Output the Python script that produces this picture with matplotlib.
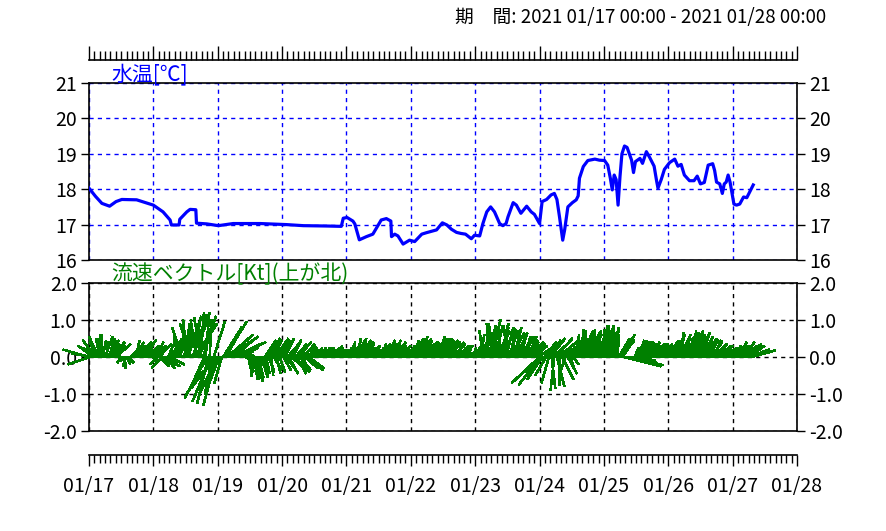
import numpy as np
import matplotlib
matplotlib.use("Agg")
import matplotlib.pyplot as plt
from matplotlib.ticker import MultipleLocator, FixedLocator

plt.rcParams['font.family'] = ['Noto Sans CJK JP', 'DejaVu Sans']
plt.rcParams['axes.unicode_minus'] = False

# ---------------- data ----------------
title_text = "期　間: 2021 01/17 00:00 - 2021 01/28 00:00"
day_labels = ["01/17", "01/18", "01/19", "01/20", "01/21", "01/22",
              "01/23", "01/24", "01/25", "01/26", "01/27", "01/28"]
temp_label = "水温[℃]"
cur_label = "流速ベクトル[Kt](上が北)"

temp_day = [0.00, 0.10, 0.20, 0.32, 0.42, 0.51, 0.74, 1.00, 1.15, 1.26, 1.28, 1.40, 1.41, 1.52, 1.57, 1.66,
            1.67, 1.83, 2.01, 2.24, 2.66, 3.07, 3.33, 3.69, 3.92, 3.95, 4.01, 4.10, 4.13, 4.20, 4.31, 4.41,
            4.54, 4.62, 4.69, 4.70, 4.75, 4.80, 4.88, 4.98, 5.06, 5.17, 5.24, 5.40, 5.49, 5.56, 5.63, 5.71,
            5.78, 5.85, 5.94, 5.99, 6.07, 6.12, 6.18, 6.24, 6.30, 6.38, 6.43, 6.48, 6.51, 6.59, 6.64, 6.71,
            6.80, 6.87, 6.92, 7.00, 7.04, 7.11, 7.18, 7.23, 7.27, 7.31, 7.36, 7.39, 7.44, 7.51, 7.57, 7.60,
            7.62, 7.68, 7.75, 7.86, 7.93, 8.01, 8.06, 8.10, 8.13, 8.16, 8.19, 8.22, 8.25, 8.28, 8.32, 8.36,
            8.43, 8.46, 8.49, 8.56, 8.60, 8.66, 8.71, 8.78, 8.82, 8.84, 8.89, 8.94, 9.02, 9.10, 9.15, 9.20,
            9.25, 9.33, 9.40, 9.45, 9.50, 9.56, 9.62, 9.69, 9.72, 9.75, 9.80, 9.84, 9.87, 9.90, 9.93, 9.96,
            10.02, 10.06, 10.11, 10.17, 10.22, 10.32]
temp_val = [18.03, 17.80, 17.60, 17.52, 17.65, 17.71, 17.70, 17.55, 17.36, 17.13, 16.99, 16.99, 17.15, 17.36, 17.43, 17.42,
            17.04, 17.02, 16.97, 17.03, 17.03, 17.00, 16.97, 16.96, 16.95, 17.18, 17.20, 17.10, 17.02, 16.57, 16.66, 16.73,
            17.13, 17.17, 17.10, 16.66, 16.73, 16.68, 16.45, 16.56, 16.52, 16.73, 16.77, 16.85, 17.05, 16.99, 16.87, 16.78,
            16.75, 16.73, 16.60, 16.70, 16.68, 17.03, 17.36, 17.50, 17.36, 17.03, 16.97, 17.03, 17.22, 17.62, 17.55, 17.32,
            17.52, 17.36, 17.29, 17.03, 17.65, 17.71, 17.84, 17.88, 17.71, 17.22, 16.56, 16.85, 17.50, 17.62, 17.70, 17.81,
            18.31, 18.64, 18.81, 18.85, 18.82, 18.81, 18.68, 18.31, 17.98, 18.40, 18.27, 17.55, 18.36, 19.00, 19.22, 19.18,
            18.82, 18.47, 18.78, 18.87, 18.73, 19.06, 18.90, 18.65, 18.22, 18.03, 18.27, 18.56, 18.75, 18.85, 18.65, 18.70,
            18.40, 18.24, 18.24, 18.37, 18.15, 18.19, 18.68, 18.72, 18.53, 18.20, 18.15, 17.88, 18.15, 18.20, 18.40, 18.20,
            17.58, 17.55, 17.58, 17.78, 17.76, 18.12]

# half-hourly current vectors [kt], east (u) / north (v) components, one list per day from 01/17 00:00
u_d0 = [-0.7, -0.6, -0.55, -0.4, -0.3, -0.35, -0.2, -0.25, -0.1, 0.0, 0.1, -0.15, 0.2, 0.05, 0.3, 0.15, 0.25, 0.35, 0.1, 0.3,
        0.4, 0.2, 0.1, 0.05, -0.1, 0.1, 0.05, -0.05, 0.1, 0.15, 0.05, 0.15, 0.2, 0.3, 0.25, 0.1, 0.35, 0.2, 0.3, 0.4,
        0.25, 0.15, 0.35, 0.2, 0.3, 0.1, 0.2, 0.15]
v_d0 = [0.2, -0.2, 0.1, 0.3, 0.25, 0.45, 0.4, 0.55, 0.5, 0.6, 0.45, 0.5, 0.55, 0.4, 0.45, 0.5, 0.35, 0.4, 0.45, 0.3,
        0.35, 0.25, 0.2, -0.1, -0.15, -0.2, -0.3, -0.25, -0.2, -0.15, -0.1, 0.15, 0.25, 0.3, 0.4, 0.45, 0.35, 0.3, 0.4, 0.45,
        0.35, 0.3, 0.25, 0.4, 0.3, 0.2, 0.15, -0.1]
u_d1 = [0.1, 0.3, 0.2, -0.2, 0.35, 0.25, 0.1, -0.3, 0.3, 0.25, 0.35, 0.2, 0.4, 0.3, -0.2, 0.45, 0.5,
        0.2, -0.1, 0.35, 0.1, -0.25, 0.4, 0.15, 0.5, -0.1, 0.3, 0.05, -0.3, 0.45, 0.2, 0.6, -0.15, 0.25, 0.4, 0.1, -0.2, 0.35,
        -0.4, 0.1, -0.6, -0.3, 0.05, -0.5, -0.2, 0.3, -0.65, -0.35]
v_d1 = [-0.15, 0.3, 0.4, -0.2, 0.35, -0.25, 0.3, -0.3, -0.2, -0.3, -0.25, 0.45, -0.2, 0.5, -0.15, 0.6, 0.5,
        0.55, 0.6, 0.7, 0.65, 0.8, 0.75, 0.9, 0.85, 1.0, 0.95, 0.8, 0.9, 1.05, 1.1, 0.9, 1.0, 1.15, 0.95, 1.2, 1.05, 1.1,
        -0.9, 1.2, -1.1, -1.25, 1.0, -1.2, -1.0, 0.95, -0.85, -1.3]
u_d2 = [-0.5, -0.3, -0.7, -0.2,
        0.5, 0.6, 0.4, 0.7, 0.8, 0.5, 0.6, 0.9, 0.7, 0.45, 0.6, 0.55, 0.4,
        0.35, 0.3, 0.2, 0.25, 0.15, 0.1,
        0.05, 0.1, 0.0, 0.15, 0.1, 0.2, 0.05, 0.15, 0.1, 0.2, 0.15, 0.1,
        0.3, 0.1, 0.35, 0.15, 0.3, 0.05, 0.25, 0.2, 0.35, 0.1, 0.3, 0.15, 0.25]
v_d2 = [-1.0, -0.8, -0.6, -0.7,
        0.8, 0.95, 0.7, 0.6, 0.55, 0.5, 0.45, 0.4, 0.35, 0.45, 0.3, 0.25, 0.2,
        0.2, 0.15, 0.1, 0.05, -0.1, -0.15,
        -0.3, -0.4, -0.5, -0.55, -0.6, -0.65, -0.6, -0.55, -0.65, -0.5, -0.55, -0.45,
        0.45, -0.45, 0.5, -0.4, 0.4, -0.5, 0.45, -0.35, 0.5, -0.45, 0.4, -0.4, 0.45]
u_d3 = [0.3, 0.2, 0.25, 0.3, 0.35, 0.25, 0.3, 0.35, 0.2, 0.4, 0.3, 0.25, 0.35, 0.3, 0.4, 0.2, 0.3, 0.35, 0.45, 0.25, 0.4,
        0.2, 0.3, 0.1, 0.05, 0.0, 0.05, 0.1, 0.0, 0.05, -0.05, 0.05, 0.1, 0.0, 0.05, 0.0, 0.05, 0.1, 0.0, 0.05, 0.0,
        0.05, 0.1, 0.0, 0.05, 0.1, 0.05, 0.0]
v_d3 = [0.45, -0.35, 0.5, -0.4, 0.4, -0.45, 0.45, -0.3, 0.4, -0.4, 0.35, -0.45, 0.4, -0.35, 0.3, -0.4, 0.35, -0.3, -0.35, 0.25, -0.3,
        0.1, 0.05, 0.15, 0.2, 0.15, 0.2, 0.25, 0.15, 0.2, 0.2, 0.25, 0.15, 0.2, 0.25, 0.2, 0.15, 0.2, 0.25, 0.2, 0.15,
        0.25, 0.3, 0.2, 0.25, 0.2, 0.15, 0.2]
u_d4 = [0.05, 0.1, 0.15, 0.1, 0.2, 0.05, 0.15, 0.25, 0.1, 0.2, 0.3, 0.15, 0.1, 0.25, 0.05, 0.2, 0.15, 0.3, 0.1, 0.2,
        0.05, 0.1, 0.15, 0.0, 0.05, 0.1, 0.0, 0.15, 0.05, 0.1, 0.2, 0.05, 0.15, 0.25, 0.1, 0.2, 0.3, 0.15, 0.05, 0.2,
        0.1, 0.25, 0.15, 0.05, 0.1, 0.0, 0.05, 0.1]
v_d4 = [0.2, 0.25, 0.3, 0.35, 0.3, 0.4, 0.35, 0.45, 0.5, 0.4, 0.45, 0.35, 0.5, 0.4, 0.3, 0.35, 0.4, 0.3, 0.25, 0.3,
        0.2, 0.25, 0.2, 0.15, 0.2, 0.25, 0.2, 0.3, 0.35, 0.3, 0.4, 0.35, 0.45, 0.4, 0.35, 0.45, 0.4, 0.3, 0.35, 0.3,
        0.25, 0.3, 0.2, 0.25, 0.2, 0.15, 0.2, 0.25]
u_d5 = [0.1, 0.15, 0.2, 0.1, 0.25, 0.15, 0.3, 0.2, 0.1, 0.25, 0.35, 0.15, 0.2, 0.1, 0.3, 0.2, 0.05, 0.15, 0.1, 0.2,
        0.25, 0.15, 0.3, 0.2, 0.35, 0.25, 0.15, 0.3, 0.2, 0.1, 0.25, 0.15, 0.3, 0.4, 0.2, 0.1, 0.25, 0.15, 0.3, 0.2,
        0.1, 0.15, 0.05, 0.1, 0.2, 0.15, 0.1, 0.2]
v_d5 = [0.3, 0.35, 0.4, 0.45, 0.4, 0.5, 0.45, 0.55, 0.5, 0.45, 0.4, 0.5, 0.35, 0.3, 0.35, 0.4, 0.3, 0.35, 0.4, 0.45,
        0.5, 0.55, 0.45, 0.5, 0.4, 0.45, 0.5, 0.4, 0.35, 0.3, 0.4, 0.45, 0.35, 0.3, 0.4, 0.35, 0.3, 0.25, 0.3, 0.2,
        0.15, 0.1, 0.05, 0.1, 0.2, 0.15, 0.25, 0.3]
u_d6 = [0.2, 0.3, 0.15, 0.35, 0.1, 0.25, -0.1, 0.2, 0.05, 0.3, -0.05, 0.15, 0.25, -0.1, 0.1, 0.2, 0.35, 0.05, 0.25, -0.05,
        0.15, 0.3, 0.1, 0.2, -0.1, 0.25, 0.15, 0.35, 0.05, 0.2, 0.3, 0.1, 0.25, 0.4, 0.15, 0.3, 0.2, 0.35, 0.1, 0.25,
        0.4, 0.2, 0.3, 0.15, 0.35, 0.25, 0.45, 0.3]
v_d6 = [0.3, 0.4, 0.5, 0.45, 0.6, 0.55, 0.7, 0.65, 0.8, 0.75, 0.9, 0.85, 1.0, 0.9, 0.8, 0.85, 0.7, 0.75, 0.8, 0.9,
        0.85, 0.75, 0.9, 0.8, 0.85, 0.7, 0.75, 0.65, 0.7, 0.8, 0.6, 0.7, 0.65, 0.55, 0.6, 0.5, 0.55, 0.45, 0.5, 0.55,
        0.4, 0.45, 0.35, 0.4, 0.3, 0.35, 0.25, 0.2]
u_d7 = [-0.75, -0.6, -0.4, -0.5,
        0.3, -0.3, 0.35, -0.2, 0.4, 0.1, 0.5, -0.1, 0.45, 0.2, 0.55, 0.0, 0.6, 0.3, 0.5, -0.15, 0.65, 0.25, 0.7, 0.1, 0.8, 0.15,
        0.1, 0.2, 0.05, 0.25, 0.15, 0.3, 0.1, 0.2, -0.05, 0.15, 0.25, 0.1, 0.3, 0.2, 0.05, 0.15, 0.25, 0.1, 0.2, 0.3, 0.15, 0.05]
v_d7 = [-0.7, -0.75, -0.6, -0.4,
        0.4, -0.5, 0.45, -0.7, 0.5, -0.85, 0.45, -0.9, 0.5, -0.8, 0.45, -0.75, 0.4, -0.6, 0.35, -0.5, 0.3, -0.45, 0.25, -0.3, 0.2, -0.2,
        0.45, 0.55, 0.6, 0.5, 0.65, 0.55, 0.7, 0.6, 0.75, 0.65, 0.55, 0.7, 0.6, 0.65, 0.75, 0.6, 0.55, 0.7, 0.65, 0.6, 0.7, 0.75]
u_d8 = [0.1, 0.05, 0.15, 0.0, 0.1, 0.2, 0.05, 0.15, 0.1, 0.0, 0.05,
        0.3, 0.4, 0.35, 0.25,
        1.0, 0.9, 0.8, 0.95, 0.7, 0.6, 0.5, 0.4,
        0.1, 0.2, 0.3, 0.15, 0.25, 0.35, 0.1, 0.2, 0.3, 0.4, 0.15, 0.25, 0.35, 0.2, 0.3, 0.1, 0.25, 0.35, 0.2, 0.3,
        0.15, 0.25, 0.1, 0.2, 0.3]
v_d8 = [0.7, 0.8, 0.75, 0.85, 0.8, 0.7, 0.85, 0.75, 0.8, 0.65, 0.6,
        0.5, 0.6, 0.45, 0.4,
        -0.25, -0.2, -0.15, -0.22, -0.1, -0.08, -0.05, -0.02,
        0.25, 0.35, 0.4, 0.45, 0.4, 0.35, 0.45, 0.4, 0.35, 0.3, 0.4, 0.35, 0.3, 0.4, 0.35, 0.3, 0.35, 0.3, 0.35, 0.3,
        0.35, 0.3, 0.35, 0.3, 0.35]
u_d9 = [0.1, 0.2, 0.3, 0.15, 0.25, 0.1, 0.2, 0.35, 0.15, 0.25, 0.05, 0.2, 0.3, 0.1, 0.25, 0.15, 0.3, 0.2, 0.1, 0.25,
        0.35, 0.15, 0.2, 0.1, 0.25, 0.3, 0.15, 0.2, 0.35, 0.25, 0.1, 0.2, 0.3, 0.4, 0.2, 0.3, 0.45, 0.35, 0.5, 0.3,
        0.2, 0.1, 0.05, 0.1, 0.15, 0.2, 0.1, 0.15]
v_d9 = [0.35, 0.4, 0.45, 0.4, 0.5, 0.45, 0.55, 0.5, 0.6, 0.55, 0.65, 0.6, 0.55, 0.5, 0.45, 0.55, 0.6, 0.65, 0.7, 0.6,
        0.55, 0.65, 0.6, 0.7, 0.65, 0.55, 0.6, 0.5, 0.45, 0.5, 0.55, 0.45, 0.4, 0.35, 0.45, 0.35, 0.3, 0.3, 0.25, 0.2,
        0.15, 0.1, 0.05, 0.1, 0.05, 0.15, 0.1, 0.2]
u_d10 = [0.1, 0.2, 0.15, 0.25, 0.3, 0.2, 0.35, 0.4, 0.3, 0.45, 0.5, 0.4, 0.55, 0.6, 0.65]
v_d10 = [0.2, 0.25, 0.3, 0.35, 0.3, 0.4, 0.35, 0.3, 0.4, 0.35, 0.3, 0.25, 0.2, 0.15, 0.18]

cur_u = u_d0 + u_d1 + u_d2 + u_d3 + u_d4 + u_d5 + u_d6 + u_d7 + u_d8 + u_d9 + u_d10
cur_v = v_d0 + v_d1 + v_d2 + v_d3 + v_d4 + v_d5 + v_d6 + v_d7 + v_d8 + v_d9 + v_d10
n_cur = min(len(cur_u), len(cur_v))
cur_u = np.array(cur_u[:n_cur])
cur_v = np.array(cur_v[:n_cur])
t_cur = np.arange(n_cur) / 48.0

# ---------------- figure ----------------
W, H = 886, 531
fig = plt.figure(figsize=(W / 100, H / 100), dpi=100)

def fx(px):
    return px / W

def fy(py):
    return 1 - py / H

x0, x1 = 89, 797
ndays = len(day_labels) - 1
FS = 14
TICKPT = 8 * 0.72

ax1 = fig.add_axes([fx(x0), fy(260), fx(x1 - x0), (260 - 83) / H])
ax2 = fig.add_axes([fx(x0), fy(431), fx(x1 - x0), (431 - 283) / H])

blue = '#0000ff'
green = '#008000'

# temperature panel
ax1.plot(temp_day, temp_val, color=blue, lw=2.3, solid_joinstyle='round', zorder=3)
ax1.set_xlim(0, ndays)
ax1.set_ylim(16, 21)
ax1.set_yticks(range(16, 22))
ax1.xaxis.set_major_locator(FixedLocator(range(0, ndays + 1)))
ax1.tick_params(axis='x', length=0, labelbottom=False)
ax1.tick_params(axis='y', left=True, right=True, labelleft=True, labelright=True,
                direction='out', length=TICKPT, width=1, labelsize=FS, pad=3)
ax1.grid(True, color=blue, linestyle=(0, (3, 3)), linewidth=1)
ax1.set_axisbelow(True)

# current vector panel
q = ax2.quiver(t_cur, np.zeros(n_cur), cur_u, cur_v, angles='uv', scale_units='y', scale=1,
               units='dots', width=1.2, headwidth=0, headlength=0, headaxislength=0,
               color=green, pivot='tail', zorder=3, antialiased=False, linewidth=0.3,
               edgecolor=green)
q.set_clip_on(False)
ax2.set_xlim(0, ndays)
ax2.set_ylim(-2, 2)
ax2.set_yticks([-2, -1, 0, 1, 2])
ax2.set_yticklabels(["%.1f" % v for v in [-2, -1, 0, 1, 2]])
ax2.xaxis.set_major_locator(FixedLocator(range(0, ndays + 1)))
ax2.tick_params(axis='x', length=0, labelbottom=False)
ax2.tick_params(axis='y', left=True, right=True, labelleft=True, labelright=True,
                direction='out', length=TICKPT, width=1, labelsize=FS, pad=3)
ax2.grid(True, color='black', linestyle=(0, (3, 3)), linewidth=1)
ax2.set_axisbelow(True)

for ax in (ax1, ax2):
    for s in ax.spines.values():
        s.set_linewidth(1.2)
        s.set_color('black')

# top ruler
r1 = fig.add_axes([fx(x0), fy(60), fx(x1 - x0), 0.0001])
r1.set_xlim(0, ndays)
r1.set_ylim(0, 1)
for k in ('top', 'left', 'right'):
    r1.spines[k].set_visible(False)
r1.spines['bottom'].set_linewidth(1.2)
r1.set_yticks([])
r1.xaxis.set_major_locator(MultipleLocator(1))
r1.xaxis.set_minor_locator(MultipleLocator(1 / 12))
r1.tick_params(axis='x', which='major', direction='in', length=14 * 0.72, width=1, labelbottom=False)
r1.tick_params(axis='x', which='minor', direction='in', length=9 * 0.72, width=1)
r1.patch.set_visible(False)

# bottom ruler
r2 = fig.add_axes([fx(x0), fy(455), fx(x1 - x0), 0.0001])
r2.set_xlim(0, ndays)
r2.set_ylim(0, 1)
for k in ('top', 'left', 'right'):
    r2.spines[k].set_visible(False)
r2.spines['bottom'].set_linewidth(1.2)
r2.set_yticks([])
r2.xaxis.set_major_locator(FixedLocator(range(0, ndays + 1)))
r2.set_xticklabels(day_labels)
r2.xaxis.set_minor_locator(MultipleLocator(1 / 12))
r2.tick_params(axis='x', which='major', direction='out', length=11 * 0.72, width=1, labelsize=FS, pad=7)
r2.tick_params(axis='x', which='minor', direction='out', length=8 * 0.72, width=1)
r2.patch.set_visible(False)

# texts
fig.text(fx(111), fy(80), temp_label, color=blue, fontsize=15, ha='left', va='baseline')
fig.text(fx(111), fy(280), cur_label, color=green, fontsize=15, ha='left', va='baseline')
fig.text(fx(826), fy(18), title_text, color='black', fontsize=13.5, ha='right', va='center')

fig.savefig("out.png", dpi=100, facecolor='white')
